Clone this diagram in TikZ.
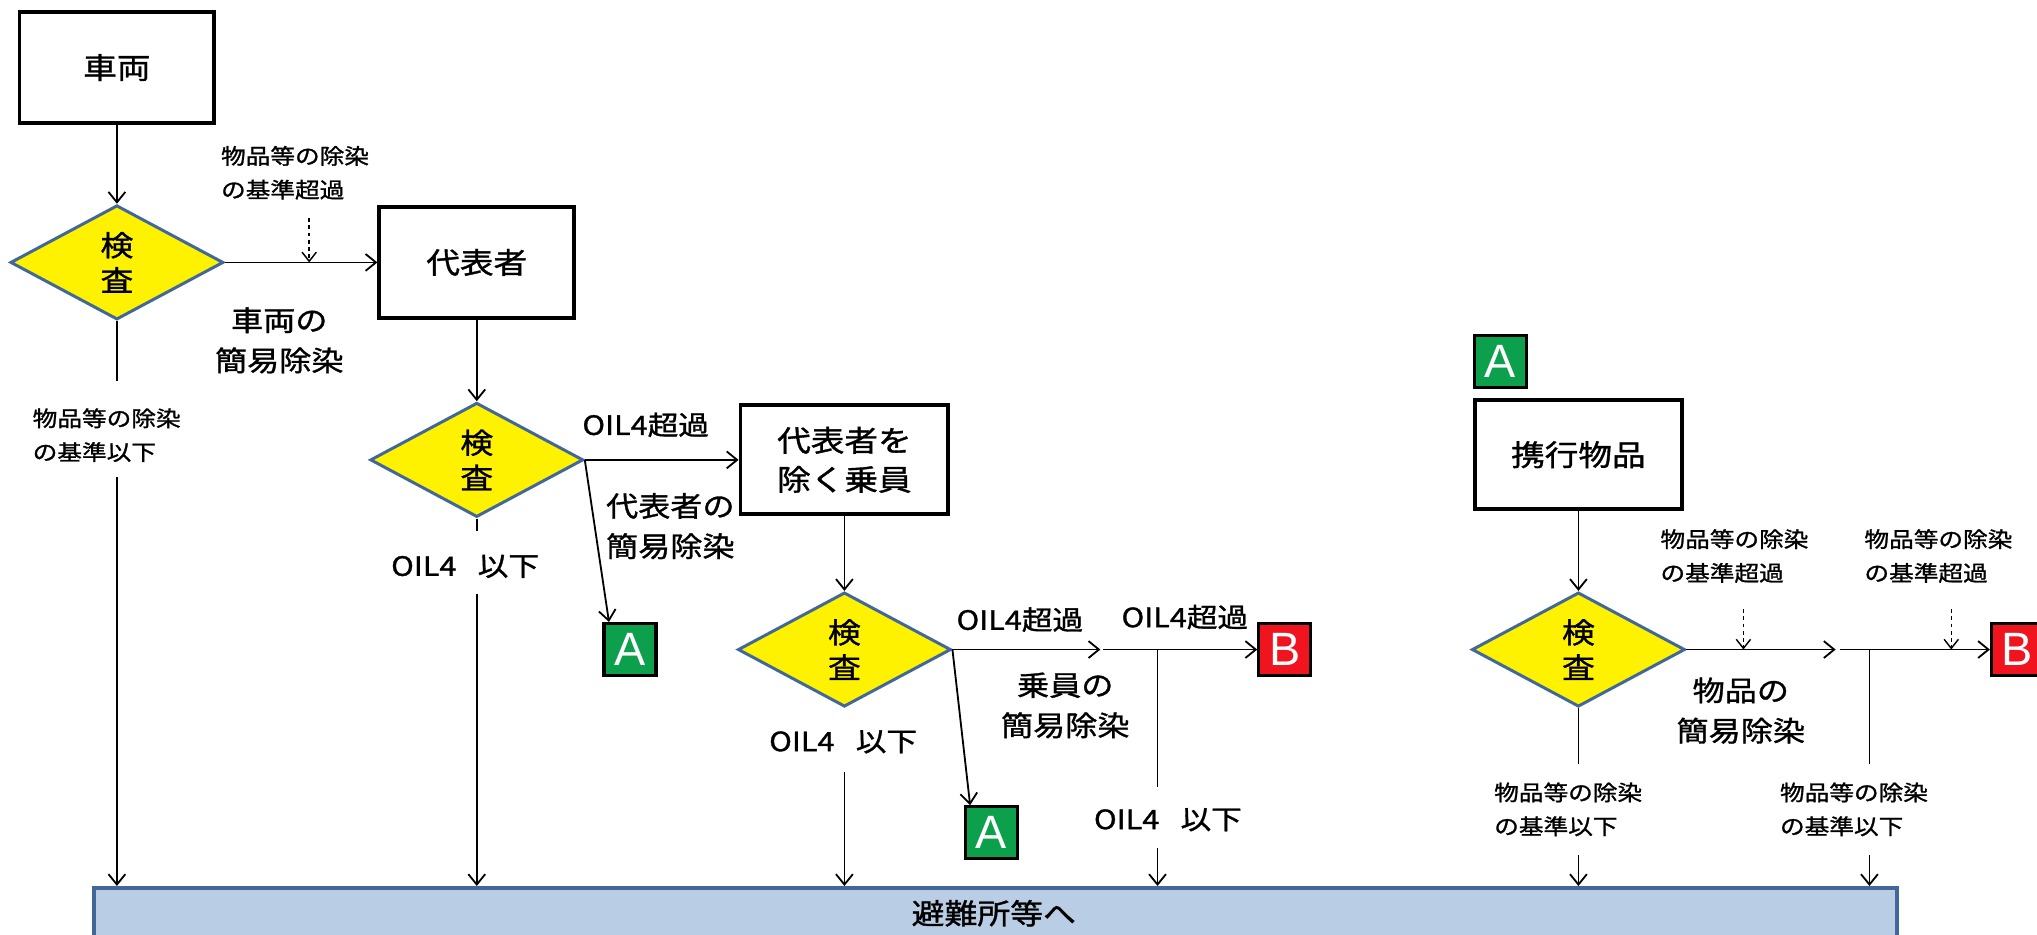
\documentclass[tikz,border=0pt]{standalone}
\usepackage{fontspec}
\setmainfont{Noto Sans CJK JP}[FakeBold=1.2,FakeStretch=1.15]
\newfontfamily\latinA{Liberation Sans}
\usetikzlibrary{shapes.geometric,arrows.meta}
\definecolor{dblue}{HTML}{41679B}
\definecolor{barblue}{HTML}{B9CDE5}
\definecolor{agreen}{HTML}{0DA04C}
\definecolor{bred}{HTML}{F0141E}
\begin{document}
\begin{tikzpicture}[x=1pt,y=-1pt,
  arr/.style={line width=1.4pt,-{Straight Barb[length=8pt,width=13pt,line width=1.4pt]}},
  ln/.style={line width=1.4pt},
  dsh/.style={line width=1.1pt,dash pattern=on 3pt off 2.5pt,-{Straight Barb[length=7pt,width=11pt,line width=1.1pt]}},
  box/.style={draw,line width=3pt,fill=white,minimum width=150pt,minimum height=85pt,font=\fontsize{22.5}{30}\selectfont,align=center,inner sep=0pt},
  chk/.style={diamond,draw=dblue,line width=2.3pt,fill=yellow,minimum width=164pt,minimum height=88pt,inner sep=0pt,aspect=1.86,font=\fontsize{22}{27}\selectfont,align=center},
  lab/.style={font=\fontsize{16.5}{26}\selectfont,align=left,inner sep=0pt,anchor=west},
  labL/.style={font=\fontsize{21.5}{31}\selectfont,align=center,inner sep=0pt},
  labM/.style={font=\fontsize{20.5}{24}\selectfont,align=center,inner sep=0pt},
  lbox/.style={draw=black,line width=2.5pt,minimum width=40pt,minimum height=40pt,inner sep=0pt,text=white,font=\latinA\fontsize{36}{36}\selectfont},
  lboxA/.style={lbox,fill=agreen},
  lboxB/.style={lbox,fill=bred}
]
\useasboundingbox (0,0) rectangle (1568,719);
\clip (0,0) rectangle (1568,719);

% bar
\node[draw=dblue,fill=barblue,line width=3pt,minimum width=1388pt,minimum height=70pt,anchor=north west,inner sep=0pt] (bar) at (71,682) {};
\node[font=\fontsize{22}{24}\selectfont,inner sep=0pt] (t17) at (765,703) {避難所等へ};

% main nodes
\node[box] (veh) at (90,52) {車両};
\node[chk] (d1) at (90,202) {検\\査};
\node[box] (rep) at (367,202) {代表者};
\node[chk] (d2) at (367,354) {検\\査};
\node[box,minimum width=160pt,minimum height=84pt] (crew) at (650,354) {代表者を\\除く乗員};
\node[chk] (d3) at (650,500) {検\\査};
\node[box,minimum width=159pt,minimum height=84pt] (item) at (1215,350) {携行物品};
\node[chk] (d4) at (1215,500) {検\\査};
\node[lboxA] (A1) at (485,500) {A};
\node[lboxA] (A2) at (763,641) {A};
\node[lboxA] (A3) at (1155,278) {A};
\node[lboxB] (B1) at (989,500) {B};
\node[lboxB] (B2) at (1553,500) {B};

% labels
\node[lab] (t1) at (170,133) {物品等の除染\\の基準超過};
\node[labL] (t2) at (215,262) {車両の\\簡易除染};
\node[lab] (t3) at (25,335) {物品等の除染\\の基準以下};
\node[labM] (t4) at (497,327) {OIL4超過};
\node[labL,align=left] (t5) at (516,405) {代表者の\\簡易除染};
\node[labM] (t6) at (358,436) {OIL4\hspace{0.8em}以下};
\node[labM] (t7) at (785,477) {OIL4超過};
\node[labM] (t8) at (912,475) {OIL4超過};
\node[labL] (t9) at (820,543) {乗員の\\簡易除染};
\node[labM] (t10) at (649,571) {OIL4\hspace{0.8em}以下};
\node[labM] (t11) at (899,631) {OIL4\hspace{0.8em}以下};
\node[lab] (t12) at (1278,428) {物品等の除染\\の基準超過};
\node[lab] (t13) at (1435,428) {物品等の除染\\の基準超過};
\node[labL] (t14) at (1340,547) {物品の\\簡易除染};
\node[lab] (t15) at (1150,623) {物品等の除染\\の基準以下};
\node[lab] (t16) at (1370,623) {物品等の除染\\の基準以下};

% coordinates
\coordinate (dz1) at (238,168);
\coordinate (s1) at (90,293);
\coordinate (s1b) at (90,367);
\coordinate (s2) at (367,409);
\coordinate (s2b) at (367,457);
\coordinate (j1) at (847,500);
\coordinate (j1b) at (849,500);
\coordinate (br1) at (891,500);
\coordinate (br1e) at (891,606);
\coordinate (br1b) at (891,653);
\coordinate (s3) at (650,594);
\coordinate (j2) at (1413,500);
\coordinate (j2b) at (1416,500);
\coordinate (dz2) at (1342,469);
\coordinate (dz3) at (1502,469);
\coordinate (s4) at (1215,588);
\coordinate (s4b) at (1215,658);
\coordinate (br2) at (1439,500);
\coordinate (br2e) at (1439,588);
\coordinate (br2b) at (1439,658);

% connectors
\draw[arr] (veh) -- (d1);
\draw[arr] (d1) -- (rep);
\draw[dsh] (dz1) -- (dz1 |- d1.east);
\draw[ln] (d1.south) -- (s1);
\draw[arr] (s1b) -- (s1b |- bar.north);
\draw[arr] (rep) -- (d2);
\draw[arr] (d2) -- (crew);
\draw[arr] (d2.east) -- ([xshift=5pt]A1.north west);
\draw[ln] (d2.south) -- (s2);
\draw[arr] (s2b) -- (s2b |- bar.north);
\draw[arr] (crew) -- (d3);
\draw[arr] (d3.east) -- (j1);
\draw[arr] (j1b) -- (B1.west);
\draw[ln] (br1) -- (br1e);
\draw[arr] (br1b) -- (br1b |- bar.north);
\draw[arr] (d3.east) -- ([xshift=5pt]A2.north west);
\draw[arr] (s3) -- (s3 |- bar.north);
\draw[arr] (item) -- (d4);
\draw[arr] (d4.east) -- (j2);
\draw[arr] (j2b) -- (B2.west);
\draw[dsh] (dz2) -- (dz2 |- d4.east);
\draw[dsh] (dz3) -- (dz3 |- d4.east);
\draw[ln] (d4.south) -- (s4);
\draw[arr] (s4b) -- (s4b |- bar.north);
\draw[ln] (br2) -- (br2e);
\draw[arr] (br2b) -- (br2b |- bar.north);
\end{tikzpicture}
\end{document}
